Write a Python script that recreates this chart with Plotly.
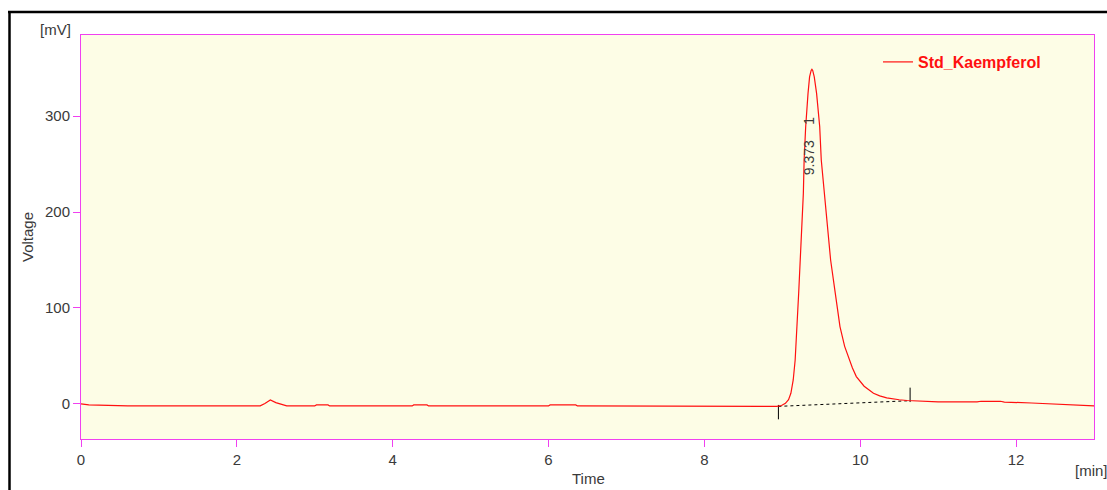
import plotly.graph_objects as go

# Chromatogram trace (time in min, signal in mV)
time_min = [0.0, 0.1, 0.6, 2.30, 2.36, 2.43, 2.50, 2.55, 2.60, 2.64, 3.00, 3.02, 3.17, 3.19,
            4.25, 4.27, 4.44, 4.46, 6.00, 6.02, 6.35, 6.37, 8.93, 8.99, 9.04, 9.08, 9.11, 9.14,
            9.165, 9.19, 9.21, 9.23, 9.25, 9.27, 9.28, 9.30, 9.33, 9.35, 9.37, 9.38, 9.39,
            9.41, 9.44, 9.48, 9.50, 9.54, 9.58, 9.62, 9.68, 9.74, 9.80, 9.86, 9.90, 9.95,
            10.05, 10.17, 10.25, 10.34, 10.42, 10.50, 10.60, 10.70, 10.85, 11.0, 11.5, 11.55,
            11.80, 11.85, 12.2, 12.5, 12.9, 13.0]
signal_mv = [0.0, -1.0, -2.0, -2.0, 0.5, 4.2, 1.4, 0.0, -1.0, -2.0, -2.0, -1.0, -1.0, -2.0,
             -2.0, -1.0, -1.0, -2.0, -2.0, -1.0, -1.0, -2.0, -2.5, -1.6, 0.7, 4.5, 11.1, 25.0,
             45.8, 80.6, 115.3, 150.0, 184.7, 219.4, 254.2, 288.9, 323.6, 340.8, 347.5, 348.6,
             347.5, 340.8, 323.6, 288.9, 254.2, 219.4, 184.7, 150.0, 115.3, 80.6, 60.0, 45.8,
             37.5, 28.5, 18.5, 11.1, 8.4, 6.4, 5.2, 4.4, 3.6, 3.1, 2.6, 2.2, 2.2, 2.8, 2.8,
             2.0, 1.0, 0.0, -1.8, -2.0]

# Integration baseline and peak boundary marks
baseline_t = [8.95, 10.64]
baseline_v = [-2.5, 3.4]
start_mark_t = [8.95, 8.95]
start_mark_v = [-1.0, -16.0]
end_mark_t = [10.64, 10.64]
end_mark_v = [2.0, 17.0]

# Peak label
peak_rt = 9.373
peak_label = "9.373"
peak_no = "1"
series_name = "Std_Kaempferol"

x_ticks = [0, 2, 4, 6, 8, 10, 12]
y_ticks = [0, 100, 200, 300]

MAG = "#F040F0"
TXT = "#3a3a3a"
FONT = "Liberation Sans, Arial, sans-serif"

fig = go.Figure()
fig.add_trace(go.Scatter(x=baseline_t, y=baseline_v, mode="lines",
                         line=dict(color="black", width=1, dash="dot"),
                         showlegend=False, hoverinfo="skip"))
fig.add_trace(go.Scatter(x=start_mark_t, y=start_mark_v, mode="lines",
                         line=dict(color="black", width=1), showlegend=False, hoverinfo="skip"))
fig.add_trace(go.Scatter(x=end_mark_t, y=end_mark_v, mode="lines",
                         line=dict(color="black", width=1), showlegend=False, hoverinfo="skip"))
fig.add_trace(go.Scatter(x=time_min, y=signal_mv, mode="lines", name=series_name,
                         line=dict(color="#FF1010", width=1.2)))

fig.add_annotation(x=peak_rt - 0.03, y=256, text=peak_label, textangle=-90, showarrow=False,
                   font=dict(family=FONT, size=14, color=TXT))
fig.add_annotation(x=peak_rt - 0.03, y=295, text=peak_no, textangle=-90, showarrow=False,
                   font=dict(family=FONT, size=14, color=TXT))

L, R, T, B = 81, 13, 35, 51
W, H = 1107, 490
pw, ph = W - L - R, H - T - B

def px(x):
    return (x - L) / pw

def py(y):
    return (H - B - y) / ph

# Axis titles
fig.add_annotation(xref="paper", yref="paper", x=px(73), y=py(30), xanchor="right", yanchor="middle",
                   text="[mV]", showarrow=False, font=dict(family=FONT, size=15, color=TXT))
fig.add_annotation(xref="paper", yref="paper", x=px(27), y=py(237), xanchor="center", yanchor="middle",
                   text="Voltage", textangle=-90, showarrow=False, font=dict(family=FONT, size=15, color=TXT))
fig.add_annotation(xref="paper", yref="paper", x=px(588), y=py(478), xanchor="center", yanchor="middle",
                   text="Time", showarrow=False, font=dict(family=FONT, size=15, color=TXT))
fig.add_annotation(xref="paper", yref="paper", x=px(1073), y=py(470), xanchor="left", yanchor="middle",
                   text="[min]", showarrow=False, font=dict(family=FONT, size=15, color=TXT))

# Outer black frame (top and left)
fig.add_shape(type="line", xref="paper", yref="paper", x0=px(8), x1=px(1110), y0=py(12), y1=py(12),
              line=dict(color="black", width=2.5))
fig.add_shape(type="line", xref="paper", yref="paper", x0=px(9.5), x1=px(9.5), y0=py(11), y1=py(495),
              line=dict(color="black", width=2.5))

fig.update_layout(
    width=W, height=H,
    margin=dict(l=L, r=R, t=T, b=B),
    paper_bgcolor="white",
    plot_bgcolor="#FDFDE6",
    font=dict(family=FONT, size=15, color=TXT),
    showlegend=True,
    legend=dict(x=px(878), y=py(45), xanchor="left", yanchor="top", bgcolor="rgba(0,0,0,0)",
                font=dict(family=FONT, size=16, color="#FF1010", weight="bold"),
                itemwidth=30),
    xaxis=dict(range=[0, 13], tickvals=x_ticks, ticks="outside", ticklen=7, tickcolor=MAG,
               showgrid=False, zeroline=False, showline=True, linecolor=MAG, linewidth=1,
               mirror=True, tickfont=dict(size=15, color=TXT), ticklabelstandoff=0),
    yaxis=dict(range=[-36.5, 384.4], tickvals=y_ticks, ticks="outside", ticklen=7, tickcolor=MAG,
               showgrid=False, zeroline=False, showline=True, linecolor=MAG, linewidth=1,
               mirror=True, tickfont=dict(size=15, color=TXT), ticklabelstandoff=0),
)

fig.write_html("out.html")
